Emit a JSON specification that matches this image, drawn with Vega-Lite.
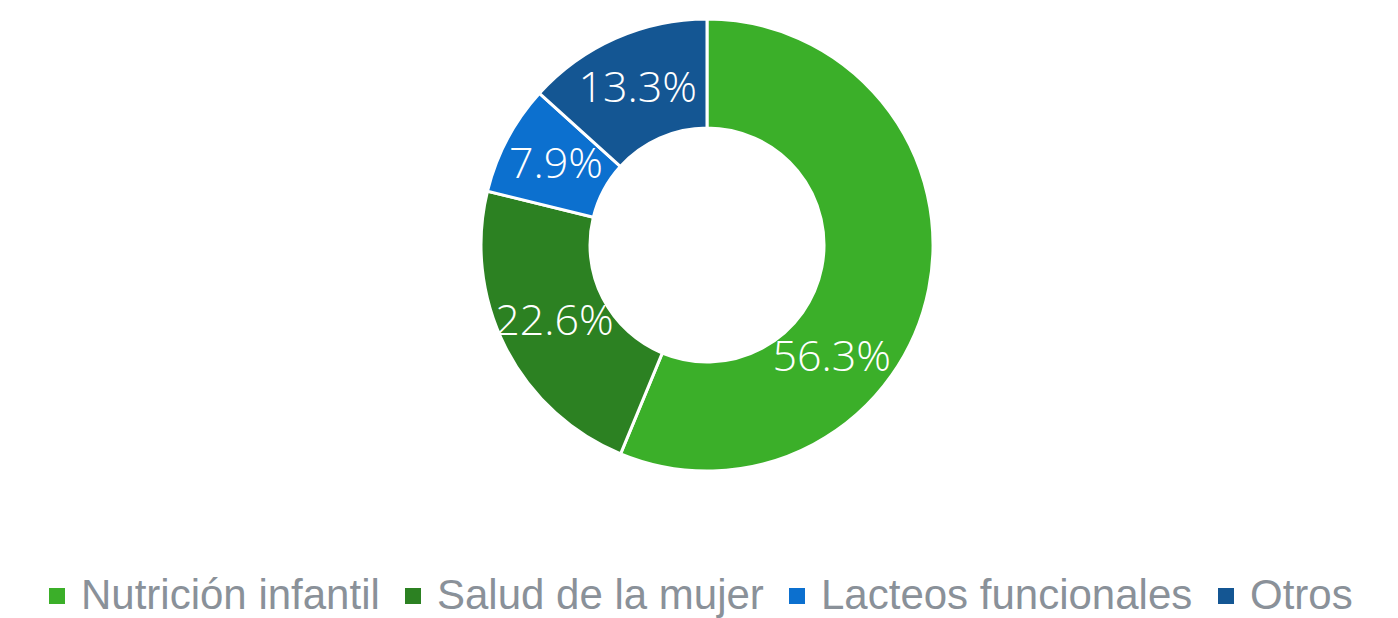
{
  "$schema": "https://vega.github.io/schema/vega-lite/v6.json",
  "width": 1382,
  "height": 490,
  "autosize": {"type": "none"},
  "padding": {"left": 16, "top": 0, "right": 0, "bottom": 128},
  "background": "white",
  "data": {
    "values": [
      {"categoria": "Nutrición infantil", "valor": 56.3, "etiqueta": "56.3%", "orden": 1},
      {"categoria": "Salud de la mujer", "valor": 22.6, "etiqueta": "22.6%", "orden": 2},
      {"categoria": "Lacteos funcionales", "valor": 7.9, "etiqueta": "7.9%", "orden": 3},
      {"categoria": "Otros", "valor": 13.3, "etiqueta": "13.3%", "orden": 4}
    ]
  },
  "encoding": {
    "theta": {"field": "valor", "type": "quantitative", "stack": true},
    "order": {"field": "orden", "type": "quantitative"},
    "color": {
      "field": "categoria",
      "type": "nominal",
      "sort": ["Nutrición infantil", "Salud de la mujer", "Lacteos funcionales", "Otros"],
      "scale": {
        "domain": ["Nutrición infantil", "Salud de la mujer", "Lacteos funcionales", "Otros"],
        "range": ["#3BAF29", "#2C8122", "#0C70CF", "#145693"]
      },
      "legend": {
        "title": null,
        "orient": "none",
        "legendX": 20,
        "legendY": 575,
        "direction": "horizontal",
        "symbolType": "square",
        "symbolSize": 256,
        "symbolStrokeWidth": 0,
        "symbolOpacity": 1,
        "labelFont": "Liberation Sans",
        "labelFontSize": 42,
        "labelColor": "#8A9199",
        "labelOffset": 3,
        "labelLimit": 600,
        "columnPadding": 12,
        "padding": 0
      }
    }
  },
  "layer": [
    {
      "mark": {"type": "arc", "innerRadius": 117, "outerRadius": 226, "stroke": "white", "strokeWidth": 3}
    },
    {
      "mark": {"type": "text", "radius": 171, "fill": "white", "font": "Open Sans", "fontWeight": 300, "fontSize": 43, "align": "center", "baseline": "middle"},
      "encoding": {
        "text": {"field": "etiqueta", "type": "nominal"},
        "color": {"value": "white"},
        "opacity": {"condition": {"test": "datum.orden == 1", "value": 0}, "value": 1}
      }
    },
    {
      "mark": {"type": "text", "radius": 171, "dx": -43, "dy": 80, "fill": "white", "font": "Open Sans", "fontWeight": 300, "fontSize": 43, "align": "center", "baseline": "middle"},
      "encoding": {
        "text": {"field": "etiqueta", "type": "nominal"},
        "color": {"value": "white"},
        "opacity": {"condition": {"test": "datum.orden == 1", "value": 1}, "value": 0}
      }
    }
  ],
  "config": {"view": {"stroke": null}}
}
